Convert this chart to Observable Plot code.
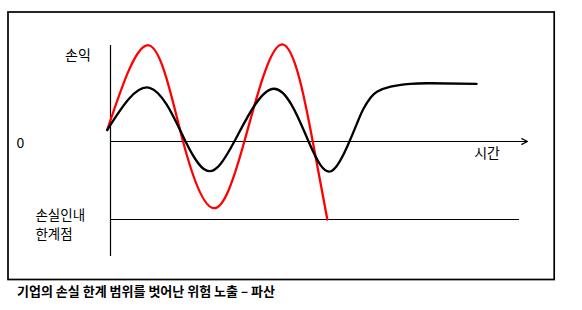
<!DOCTYPE html>
<html><head><meta charset="utf-8">
<script src="https://cdn.jsdelivr.net/npm/d3@7"></script>
<script src="https://cdn.jsdelivr.net/npm/@observablehq/plot@0.6"></script>
<style>
body{margin:0;background:#fff;font-family:"Noto Sans CJK KR",sans-serif;}
#cap{margin:0 0 0 17px;font-size:13px;font-weight:bold;line-height:17px;color:#000;white-space:nowrap;}
</style>
</head><body><div id="chart"></div><div id="cap"></div>
<script>
// black series (company profit/loss, bounded)
const blackTime  = [-0.8, 9.4, 18.0, 23.7, 29.7, 39.2, 47.5, 52.9, 57.3, 59.2, 60.7, 62.4, 64.0, 67.2, 71.9, 76.7, 87.8];
const blackValue = [14.7, 68.8, 0, -38.1, 0, 67.6, 0, -38.1, 0, 24.4, 42.3, 56.4, 64.1, 70.5, 74.0, 74.7, 74.0];
// red series (risk exposure beyond the loss limit)
const redTime  = [-0.8, 9.35, 17.4, 24.8, 32.1, 41.2, 48.5, 52.0];
const redValue = [14.7, 123.1, 0, -85.5, 0, 124.4, 0, -100];
// reference levels
const zeroValue = 0;
const limitValue = -100;
const timeAxisEnd = 100;
const limitLineEnd = 98.1;
const valueAxisTop = 123.1;
const valueAxisBottom = -147.4;
// labels
const profitLabel = "손익";
const zeroLabel = "0";
const timeLabel = "시간";
const limitLabel1 = "손실인내";
const limitLabel2 = "한계점";
const captionText = "기업의 손실 한계 범위를 벗어난 위험 노출 – 파산";

const black = blackTime.map((t, i) => ({t, v: blackValue[i]}));
const red = redTime.map((t, i) => ({t, v: redValue[i]}));

const font = "Noto Sans CJK KR";
const chart = Plot.plot({
  width: 582, height: 282,
  marginLeft: 7.5, marginTop: 11.5, marginRight: 28.3, marginBottom: 3,
  x: {domain: [0, 100], range: [110, 527], axis: null},
  y: {domain: [-100, 0], range: [219, 141], axis: null},
  style: {fontFamily: font, background: "#fff", overflow: "visible"},
  marks: [
    Plot.frame({stroke: "#000", strokeWidth: 1.7}),
    Plot.ruleX([0], {x: d => d, y1: () => valueAxisBottom, y2: () => valueAxisTop, stroke: "#000", strokeWidth: 1.2}),
    Plot.arrow([zeroValue], {x1: () => 0, x2: () => timeAxisEnd, y1: d => d, y2: d => d, stroke: "#000", strokeWidth: 1.2, headLength: 8, headAngle: 53, bend: 0}),
    Plot.ruleY([limitValue], {y: d => d, x1: () => 0, x2: () => limitLineEnd, stroke: "#000", strokeWidth: 1.2}),
    Plot.line(red, {x: "t", y: "v", curve: "natural", stroke: "#ff0000", strokeWidth: 2.3}),
    Plot.line(black, {x: "t", y: "v", curve: "natural", stroke: "#000", strokeWidth: 2.3}),
    Plot.text([profitLabel], {x: () => -7.8, y: () => 109.6, fontSize: 14, fill: "#000", textAnchor: "middle"}),
    Plot.text([zeroLabel], {x: () => -21.6, y: () => -3.2, fontSize: 14, fill: "#000", textAnchor: "middle"}),
    Plot.text([timeLabel], {x: () => 90.3, y: () => -16, fontSize: 14, fill: "#000", textAnchor: "middle"}),
    Plot.text([limitLabel1], {x: () => -18.0, y: () => -94.6, fontSize: 13.5, fill: "#000", textAnchor: "start"}),
    Plot.text([limitLabel2], {x: () => -18.0, y: () => -119.6, fontSize: 13.5, fill: "#000", textAnchor: "start"})
  ]
});
document.getElementById("chart").appendChild(chart);
document.getElementById("cap").textContent = captionText;
</script>
</body></html>
